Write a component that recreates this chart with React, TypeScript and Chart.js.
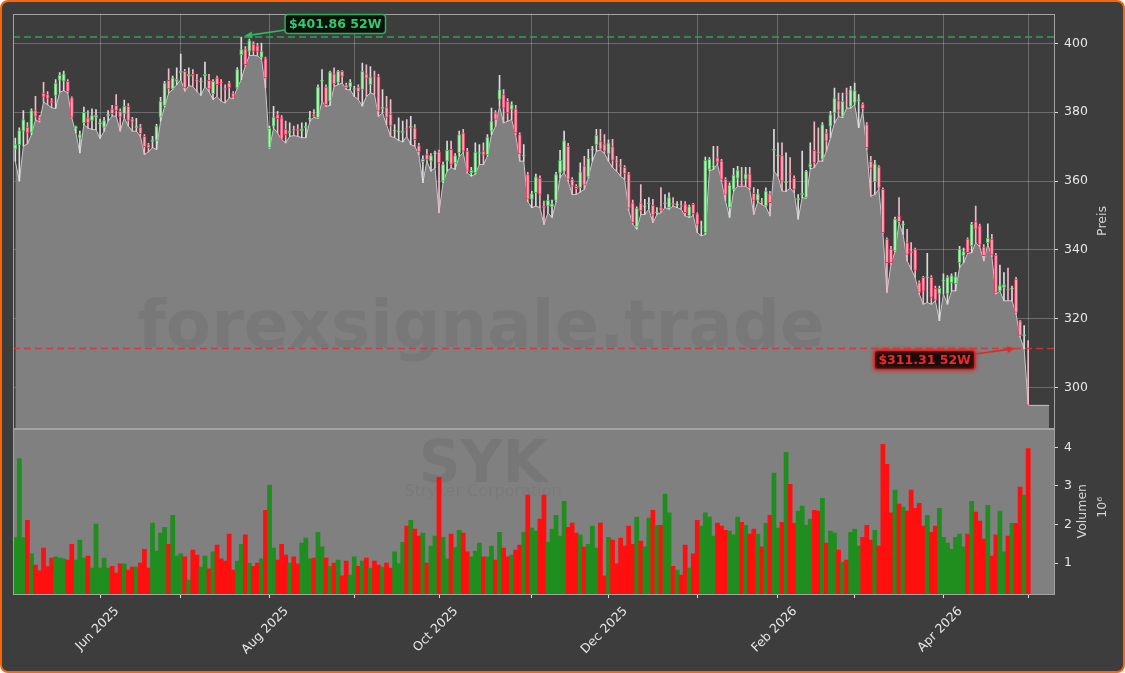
import React, { useEffect, useRef } from 'react';
import { Chart, registerables } from 'chart.js';

Chart.register(...registerables);

// ---- Data (SYK daily, index = trading day from 2025-05-01) ----
const opens = [
  369.3, 370.6, 374.5, 375.7, 374.1, 380.5, 378.6, 385.6, 385.1, 383.4,
  384.9, 389.3, 389.0, 389.0, 384.2, 375.3, 372.5, 377.0, 378.4, 377.6,
  378.5, 376.5, 375.6, 379.0, 381.0, 382.0, 380.3, 379.6, 381.7, 378.1,
  375.5, 375.7, 373.0, 370.6, 371.4, 371.8, 378.6, 381.9, 389.3, 386.8,
  389.0, 391.5, 391.9, 390.5, 391.0, 389.5, 388.8, 390.5, 389.3, 385.4,
  390.0, 388.7, 386.9, 388.5, 385.6, 387.1, 396.7, 398.4, 397.7, 399.8,
  399.3, 395.9, 395.6, 369.7, 375.9, 379.3, 378.4, 375.0, 374.0, 375.0,
  375.0, 374.5, 375.5, 378.0, 379.3, 378.4, 389.0, 387.3, 383.2, 391.2,
  388.7, 391.9, 388.0, 387.3, 386.6, 387.3, 386.6, 391.2, 388.0, 390.5,
  390.4, 381.0, 381.5, 379.5, 374.5, 374.3, 374.0, 375.3, 375.5, 375.5,
  370.3, 365.6, 367.7, 365.8, 367.9, 368.5, 360.0, 365.8, 369.2, 365.3,
  368.2, 374.0, 368.7, 362.4, 362.4, 368.0, 368.7, 367.7, 374.5, 379.8,
  383.7, 385.1, 383.2, 380.8, 381.0, 373.5, 367.2, 361.9, 354.7, 356.6,
  360.8, 352.7, 352.8, 352.5, 354.4, 362.4, 362.9, 370.1, 360.5, 358.5,
  358.1, 364.4, 361.2, 369.0, 370.6, 371.6, 370.8, 367.9, 370.0, 365.8,
  364.6, 364.0, 362.1, 353.7, 346.7, 353.7, 352.5, 353.4, 353.0, 350.8,
  352.3, 353.4, 352.3, 353.5, 353.0, 352.8, 353.4, 349.9, 353.2, 350.5,
  346.5, 345.0, 363.4, 364.0, 366.8, 365.8, 360.5, 352.3, 357.6, 360.8,
  359.0, 360.5, 362.1, 356.4, 354.4, 354.0, 352.8, 356.3, 368.9, 367.2,
  367.4, 359.5, 362.0, 360.8, 354.5, 356.0, 355.2, 364.0, 368.9, 368.5,
  366.3, 374.0, 375.9, 379.8, 383.4, 378.8, 385.4, 381.7, 382.7, 383.4,
  382.4, 376.4, 365.8, 359.8, 364.1, 357.6, 343.1, 340.2, 339.7, 349.9,
  347.3, 342.1, 339.3, 340.2, 330.5, 332.0, 331.9, 332.0, 328.8, 327.2,
  330.9, 327.2, 330.5, 330.2, 336.3, 338.3, 343.1, 341.2, 348.2, 347.0,
  340.9, 342.1, 343.1, 338.5, 328.1, 329.1, 328.4, 328.6, 331.5, 319.4,
  315.0, 294.9,
];
const highs = [
  372.5, 375.5, 380.5, 377.0, 381.0, 384.6, 379.0, 388.7, 386.0, 384.0,
  389.5, 391.5, 392.0, 389.5, 384.5, 376.0, 374.5, 381.5, 380.5, 381.0,
  380.8, 378.0, 378.5, 380.5, 382.0, 385.1, 381.0, 383.5, 382.5, 378.5,
  378.2, 376.5, 373.5, 371.0, 373.0, 376.5, 384.3, 389.0, 392.6, 390.5,
  392.9, 396.9, 392.5, 392.9, 392.4, 391.0, 390.0, 394.6, 391.0, 389.5,
  390.5, 389.5, 388.0, 389.0, 386.0, 393.0, 401.86, 399.1, 401.3, 400.5,
  400.0, 400.1, 396.0, 376.0, 381.7, 380.3, 379.0, 377.4, 376.9, 376.0,
  376.4, 376.9, 377.0, 380.3, 380.8, 388.0, 392.4, 388.0, 392.0, 392.9,
  392.2, 392.1, 388.5, 389.5, 387.5, 388.0, 394.3, 393.8, 393.3, 392.0,
  391.0, 386.6, 384.6, 383.7, 376.4, 378.4, 377.4, 377.9, 378.8, 376.4,
  371.0, 367.3, 369.2, 368.0, 368.7, 369.0, 365.5, 371.6, 371.6, 368.0,
  374.5, 375.0, 369.5, 364.0, 371.1, 370.6, 371.1, 373.5, 381.2, 380.5,
  390.7, 386.6, 384.0, 383.0, 382.0, 374.0, 370.6, 362.5, 357.0, 362.0,
  361.5, 354.2, 356.1, 354.5, 362.5, 368.9, 374.5, 371.0, 361.0, 359.0,
  365.3, 367.2, 369.2, 370.1, 375.0, 375.0, 373.5, 372.0, 372.1, 367.2,
  366.3, 364.5, 362.5, 354.5, 352.5, 359.0, 354.7, 355.2, 354.7, 352.3,
  358.1, 356.1, 356.6, 355.2, 354.0, 354.2, 354.0, 353.0, 353.5, 350.8,
  348.4, 367.0, 366.8, 370.1, 370.1, 366.3, 361.0, 359.5, 363.7, 364.3,
  364.0, 364.0, 364.0, 358.1, 357.6, 355.0, 358.0, 357.0, 375.0, 371.1,
  371.1, 368.2, 366.8, 361.5, 356.1, 368.7, 363.1, 371.1, 377.2, 375.5,
  377.0, 375.0, 380.3, 387.05, 385.6, 385.6, 387.05, 387.5, 388.5, 385.1,
  382.7, 377.0, 367.2, 366.0, 364.5, 358.0, 343.5, 341.0, 349.5, 355.2,
  348.4, 346.0, 342.1, 340.5, 331.0, 332.3, 339.0, 332.5, 329.5, 329.5,
  333.0, 332.5, 333.0, 333.5, 341.0, 340.5, 343.5, 348.0, 352.7, 347.5,
  341.5, 347.6, 344.5, 339.0, 335.6, 333.4, 334.7, 329.5, 332.0, 319.5,
  318.0, 313.6,
];
const lows = [
  365.8, 360.0, 370.2, 370.8, 373.5, 377.8, 377.2, 383.0, 382.2, 381.3,
  381.1, 385.8, 386.3, 385.6, 378.4, 374.0, 368.2, 376.4, 375.4, 375.0,
  374.9, 372.4, 374.5, 377.4, 378.9, 378.9, 374.5, 378.4, 376.0, 374.5,
  374.5, 373.0, 367.7, 368.5, 369.7, 369.2, 377.4, 381.6, 385.6, 386.6,
  388.0, 389.5, 386.1, 387.7, 387.5, 386.0, 384.9, 387.5, 386.0, 383.7,
  384.6, 383.2, 382.7, 384.2, 384.0, 387.0, 389.5, 393.5, 396.5, 396.5,
  396.4, 395.5, 387.1, 369.5, 375.4, 374.0, 372.0, 371.1, 373.0, 373.2,
  373.0, 372.6, 372.6, 377.4, 378.5, 378.2, 383.2, 381.7, 382.0, 387.5,
  388.0, 388.5, 386.6, 386.5, 384.6, 383.7, 381.8, 384.6, 385.6, 385.2,
  378.8, 379.8, 376.4, 373.0, 372.6, 371.8, 371.4, 373.0, 370.6, 370.1,
  367.7, 359.5, 365.8, 362.9, 363.9, 350.8, 359.5, 362.9, 363.9, 363.4,
  367.2, 368.2, 362.4, 361.4, 362.0, 364.8, 364.8, 367.2, 373.5, 375.9,
  381.7, 376.9, 377.4, 377.9, 373.5, 365.8, 365.8, 354.0, 352.3, 352.7,
  352.3, 347.4, 350.8, 349.4, 354.0, 361.0, 362.5, 360.0, 356.1, 356.1,
  356.8, 357.6, 361.0, 365.8, 368.7, 369.0, 368.0, 365.8, 363.9, 362.9,
  361.4, 360.5, 351.5, 347.5, 346.0, 350.3, 350.3, 351.8, 347.9, 350.3,
  350.8, 352.3, 351.8, 352.7, 352.3, 351.8, 349.9, 349.4, 350.0, 345.0,
  344.1, 344.5, 363.0, 363.4, 365.0, 360.0, 354.2, 349.4, 357.1, 358.5,
  358.5, 358.5, 357.5, 350.3, 354.0, 353.2, 352.5, 349.9, 362.9, 361.4,
  357.1, 357.0, 358.0, 356.6, 348.9, 355.2, 355.0, 363.5, 363.9, 365.8,
  365.8, 368.7, 372.6, 376.9, 378.8, 378.4, 381.2, 381.2, 382.2, 375.5,
  380.3, 369.2, 355.6, 356.1, 357.6, 344.8, 327.6, 335.8, 339.5, 347.9,
  344.5, 336.8, 334.4, 332.0, 327.2, 324.2, 324.7, 324.2, 325.2, 319.4,
  327.2, 324.2, 328.1, 328.1, 334.9, 336.3, 339.0, 339.2, 342.1, 340.9,
  336.8, 341.6, 338.0, 327.2, 328.0, 325.2, 325.2, 325.2, 321.4, 314.6,
  311.31, 294.8,
];
const closes = [
  370.6, 374.7, 377.9, 374.0, 380.5, 378.8, 377.6, 384.4, 384.0, 382.7,
  388.5, 390.7, 391.2, 385.9, 378.6, 375.8, 373.5, 380.0, 376.9, 379.0,
  379.2, 377.0, 377.6, 379.5, 379.6, 380.5, 378.6, 381.7, 377.6, 377.1,
  376.0, 373.8, 370.0, 369.7, 372.0, 375.9, 383.2, 388.5, 386.8, 390.0,
  389.6, 391.9, 387.1, 391.0, 390.5, 389.0, 389.0, 391.0, 386.8, 389.0,
  388.0, 388.5, 386.6, 387.1, 384.4, 392.4, 398.2, 393.8, 400.8, 397.7,
  397.7, 397.7, 390.0, 375.3, 378.6, 378.1, 372.1, 373.5, 374.5, 374.8,
  374.6, 375.2, 375.9, 378.3, 378.8, 387.3, 389.3, 382.2, 391.7, 388.2,
  391.9, 390.4, 387.1, 388.7, 386.8, 385.9, 391.9, 389.8, 390.2, 390.4,
  380.3, 381.5, 378.5, 376.0, 374.7, 374.6, 374.5, 375.0, 376.0, 372.0,
  368.5, 366.3, 366.3, 367.4, 368.2, 365.3, 364.8, 368.9, 364.8, 367.4,
  373.5, 368.7, 362.9, 363.1, 368.4, 368.2, 367.5, 372.8, 377.4, 377.9,
  386.6, 381.2, 379.8, 382.2, 374.0, 367.9, 367.4, 354.7, 356.3, 361.2,
  356.1, 352.1, 354.4, 353.4, 361.9, 366.0, 371.8, 360.5, 358.5, 357.8,
  362.7, 358.8, 366.6, 369.4, 373.3, 369.2, 368.7, 371.1, 366.0, 365.5,
  364.3, 362.1, 352.1, 347.9, 352.1, 351.3, 352.7, 353.7, 350.1, 351.0,
  351.5, 353.5, 355.2, 353.2, 353.3, 352.6, 350.8, 352.6, 350.5, 347.4,
  346.6, 366.0, 366.3, 364.4, 365.5, 360.5, 356.1, 358.8, 361.7, 363.1,
  358.8, 362.1, 357.9, 354.4, 356.3, 353.9, 357.1, 353.7, 369.3, 367.4,
  360.0, 359.6, 361.9, 357.6, 355.0, 356.5, 362.9, 365.0, 365.3, 368.0,
  376.4, 371.6, 379.3, 384.1, 380.5, 383.2, 385.2, 386.6, 386.3, 383.5,
  381.0, 369.7, 363.7, 365.0, 357.9, 345.0, 336.3, 336.3, 348.9, 348.2,
  347.4, 338.7, 339.2, 334.0, 327.6, 328.0, 332.0, 326.2, 325.4, 328.8,
  331.0, 332.0, 332.5, 332.2, 340.2, 339.5, 339.2, 347.4, 346.0, 341.6,
  338.3, 343.4, 338.5, 327.6, 329.6, 329.9, 328.3, 328.8, 321.8, 315.1,
  315.4, 294.8,
];
// Volume in millions of shares
const volumes = [
  1.66, 3.71, 1.66, 2.11, 1.24, 0.95, 0.80, 1.39, 0.91, 1.13,
  1.16, 1.13, 1.11, 1.08, 1.49, 1.08, 1.60, 1.13, 1.18, 0.87,
  2.01, 0.87, 1.13, 0.87, 0.92, 0.74, 0.98, 0.98, 0.82, 0.90,
  0.90, 1.00, 1.36, 0.87, 2.04, 1.31, 1.78, 1.93, 1.49, 2.24,
  1.18, 1.24, 1.16, 0.56, 1.34, 1.21, 0.90, 1.18, 0.85, 1.29,
  1.47, 1.11, 1.05, 1.75, 0.82, 1.05, 1.49, 1.73, 1.00, 0.92,
  1.00, 1.11, 2.37, 3.02, 1.39, 1.08, 1.49, 1.21, 1.00, 1.16,
  0.98, 1.52, 1.65, 1.11, 1.13, 1.80, 1.42, 1.13, 0.92, 1.00,
  1.08, 0.67, 1.05, 0.69, 1.16, 0.92, 1.05, 1.13, 0.87, 1.05,
  0.95, 0.90, 1.00, 0.87, 1.29, 0.98, 1.54, 1.96, 2.11, 1.88,
  1.70, 1.78, 1.00, 1.44, 1.70, 3.22, 1.67, 1.11, 1.75, 1.41,
  1.85, 1.78, 1.29, 1.16, 1.31, 1.52, 1.16, 1.16, 1.44, 1.08,
  1.80, 1.39, 1.16, 1.21, 1.34, 1.47, 1.80, 2.76, 1.91, 1.83,
  2.14, 2.76, 1.54, 1.88, 2.24, 1.70, 2.60, 1.93, 2.04, 1.78,
  1.73, 1.42, 1.49, 1.96, 1.39, 2.04, 0.67, 1.67, 1.60, 0.98,
  1.65, 1.44, 1.96, 1.49, 2.19, 1.57, 1.42, 2.17, 2.37, 1.98,
  1.98, 2.79, 2.30, 0.92, 0.82, 0.69, 1.47, 0.87, 1.24, 2.11,
  1.96, 2.30, 2.19, 1.70, 2.04, 1.96, 1.85, 1.83, 1.73, 2.19,
  2.06, 1.98, 1.75, 1.88, 1.75, 1.42, 2.03, 2.24, 3.33, 1.91,
  2.06, 3.87, 3.04, 2.03, 2.35, 2.48, 1.98, 2.14, 2.37, 2.35,
  2.68, 1.52, 1.83, 1.78, 1.34, 1.03, 1.08, 1.80, 1.88, 1.44,
  1.67, 1.98, 1.60, 1.85, 1.44, 4.08, 3.56, 2.30, 2.89, 2.53,
  2.45, 2.35, 2.89, 2.42, 2.55, 1.96, 2.24, 1.80, 1.96, 2.42,
  1.67, 1.52, 1.36, 1.67, 1.75, 1.42, 1.75, 2.60, 2.32, 2.09,
  1.62, 2.50, 1.18, 1.73, 2.35, 1.29, 1.70, 2.03, 2.03, 2.97,
  2.76, 3.97,
];

const monthTickIndex = [21, 41, 63, 84, 105, 128, 147, 169, 189, 208, 230, 251];
const monthTickLabels = ['Jun 2025', '', 'Aug 2025', '', 'Oct 2025', '', 'Dec 2025', '', 'Feb 2026', '', 'Apr 2026', ''];
const priceTicks = [300, 320, 340, 360, 380, 400];
const volumeTicks = [1, 2, 3, 4];
const high52w = 401.86;
const low52w = 311.31;
const areaTailIndex = 256.2;

// ---- axis limits / styles ----
const X_MIN = -0.57;
const X_MAX = 257.4;
const PRICE_MIN = 288.1;
const PRICE_MAX = 408.7;
const VOL_MIN = 0.2;
const VOL_MAX = 4.49;

const FONT = '"DejaVu Sans", sans-serif';
const BG = '#3d3d3d';
const PANEL_GREY = '#808080';
const GRID = 'rgba(255,255,255,0.24)';
const TICK_TXT = '#e6e6e6';
const TICK_MARK = '#dddddd';
const SPINE = '#a3a3a3';
const UP_FILL = '#bfe9bf';
const UP_EDGE = '#4cbb5a';
const DN_FILL = '#ffa8bb';
const DN_EDGE = '#e33a62';
const UP_WICK = '#dcdcdc';
const DN_WICK = '#f3b7c6';
const VOL_UP = '#1f8e1f';
const VOL_DN = '#ff0f0f';

function roundRect(ctx: CanvasRenderingContext2D, x: number, y: number, w: number, h: number, r: number) {
  ctx.beginPath();
  ctx.moveTo(x + r, y);
  ctx.lineTo(x + w - r, y);
  ctx.quadraticCurveTo(x + w, y, x + w, y + r);
  ctx.lineTo(x + w, y + h - r);
  ctx.quadraticCurveTo(x + w, y + h, x + w - r, y + h);
  ctx.lineTo(x + r, y + h);
  ctx.quadraticCurveTo(x, y + h, x, y + h - r);
  ctx.lineTo(x, y + r);
  ctx.quadraticCurveTo(x, y, x + r, y);
  ctx.closePath();
}

function drawArrow(ctx: CanvasRenderingContext2D, x0: number, y0: number, x1: number, y1: number, color: string) {
  const ang = Math.atan2(y1 - y0, x1 - x0);
  const head = 8;
  const hw = 3.5;
  const bx = x1 - head * Math.cos(ang);
  const by = y1 - head * Math.sin(ang);
  ctx.save();
  ctx.strokeStyle = color;
  ctx.fillStyle = color;
  ctx.lineWidth = 1.6;
  ctx.beginPath();
  ctx.moveTo(x0, y0);
  ctx.lineTo(bx, by);
  ctx.stroke();
  ctx.beginPath();
  ctx.moveTo(x1, y1);
  ctx.lineTo(bx + hw * Math.sin(ang), by - hw * Math.cos(ang));
  ctx.lineTo(bx - hw * Math.sin(ang), by + hw * Math.cos(ang));
  ctx.closePath();
  ctx.fill();
  ctx.restore();
}

function drawTag(ctx: CanvasRenderingContext2D, text: string, cx: number, cy: number, fg: string, edge: string, bg: string, glow: boolean) {
  ctx.save();
  ctx.font = `bold 12.5px ${FONT}`;
  const w = ctx.measureText(text).width + 8;
  const h = 19;
  roundRect(ctx, cx - w / 2, cy - h / 2, w, h, 3);
  if (glow) {
    ctx.shadowColor = edge;
    ctx.shadowBlur = 4;
  }
  ctx.fillStyle = bg;
  ctx.fill();
  ctx.lineWidth = 1.5;
  ctx.strokeStyle = edge;
  ctx.stroke();
  ctx.shadowBlur = 0;
  ctx.fillStyle = fg;
  ctx.textAlign = 'center';
  ctx.textBaseline = 'middle';
  ctx.fillText(text, cx, cy + 0.5);
  ctx.restore();
  return w;
}

export default function App() {
  const canvasRef = useRef<HTMLCanvasElement | null>(null);

  useEffect(() => {
    const canvas = canvasRef.current;
    if (!canvas) return;
    const n = closes.length;
    const idx = closes.map((_, i) => i);
    const isUp = idx.map((i) => closes[i] >= opens[i]);

    const areaData = idx.map((i) => ({ x: i, y: lows[i] }));
    areaData.push({ x: areaTailIndex, y: lows[n - 1] });
    const wickData = idx.map((i) => ({ x: i, y: [lows[i], highs[i]] }));
    const bodyData = idx.map((i) => ({ x: i, y: [opens[i], closes[i]] }));
    const volData = idx.map((i) => ({ x: i, y: volumes[i] }));

    const hiIndex = highs.indexOf(Math.max(...highs));
    const loIndex = lows.findIndex((v) => Math.abs(v - low52w) < 1e-6);

    const overlay = {
      id: 'overlay',
      beforeDatasetsDraw(chart: any) {
        const { ctx, chartArea } = chart;
        const yv = chart.scales.yv;
        ctx.save();
        ctx.fillStyle = PANEL_GREY;
        ctx.fillRect(chartArea.left, yv.top, chartArea.right - chartArea.left, yv.bottom - yv.top);
        ctx.restore();
      },
      afterDatasetDraw(chart: any, args: any) {
        if (args.index !== 0) return;
        const { ctx, chartArea } = chart;
        ctx.save();
        ctx.textAlign = 'center';
        ctx.textBaseline = 'alphabetic';
        ctx.fillStyle = 'rgba(0,0,0,0.06)';
        ctx.font = `bold 66px ${FONT}`;
        ctx.fillText('forexsignale.trade', chartArea.left + 468, 347);
        ctx.fillStyle = 'rgba(0,0,0,0.065)';
        ctx.font = `bold 58px ${FONT}`;
        ctx.fillText('SYK', chartArea.left + 470, 482);
        ctx.fillStyle = 'rgba(0,0,0,0.05)';
        ctx.font = `16px ${FONT}`;
        ctx.fillText('Stryker Corporation', chartArea.left + 470, 496);
        ctx.restore();
      },
      afterDatasetsDraw(chart: any) {
        const { ctx, chartArea } = chart;
        const xs = chart.scales.x;
        const y = chart.scales.y;
        const yv = chart.scales.yv;
        const L = chartArea.left;
        const R = chartArea.right;

        // dashed 52W lines
        ctx.save();
        ctx.lineWidth = 1.5;
        ctx.setLineDash([7, 4]);
        ctx.strokeStyle = 'rgba(46,168,88,0.95)';
        const yh = y.getPixelForValue(high52w);
        ctx.beginPath();
        ctx.moveTo(L, yh);
        ctx.lineTo(R, yh);
        ctx.stroke();
        ctx.strokeStyle = 'rgba(214,52,52,0.9)';
        const yl = y.getPixelForValue(low52w);
        ctx.beginPath();
        ctx.moveTo(L, yl);
        ctx.lineTo(R, yl);
        ctx.stroke();
        ctx.restore();

        // spines
        ctx.save();
        ctx.strokeStyle = SPINE;
        ctx.lineWidth = 1;
        ctx.strokeRect(Math.round(L) + 0.5, Math.round(y.top) + 0.5, Math.round(R - L), Math.round(y.bottom - y.top));
        ctx.strokeRect(Math.round(L) + 0.5, Math.round(yv.top) + 0.5, Math.round(R - L), Math.round(yv.bottom - yv.top));
        ctx.restore();

        // 52W high tag
        const phx = xs.getPixelForValue(hiIndex);
        const phy = y.getPixelForValue(high52w);
        const gcx = phx + 94;
        const gcy = phy - 13;
        const gw = drawTag(ctx, `$${high52w.toFixed(2)} 52W`, gcx, gcy, '#35c86f', '#2fae5e', '#07140b', false);
        drawArrow(ctx, gcx - gw / 2, gcy + 6, phx + 3, phy - 1, '#2fb862');

        // 52W low tag
        const plx = xs.getPixelForValue(loIndex);
        const ply = y.getPixelForValue(low52w);
        const rcx = plx - 99.5;
        const rcy = ply + 11.5;
        const rw = drawTag(ctx, `$${low52w.toFixed(2)} 52W`, rcx, rcy, '#ee2b2b', '#d42a2a', '#1a0b0b', true);
        drawArrow(ctx, rcx + rw / 2, rcy - 6, plx - 9, ply, '#e02a2a');

        // axis titles
        ctx.save();
        ctx.fillStyle = '#d6d6d6';
        ctx.font = `12.5px ${FONT}`;
        ctx.textAlign = 'center';
        ctx.textBaseline = 'middle';
        const txt = (s: string, x: number, yy: number) => {
          ctx.save();
          ctx.translate(x, yy);
          ctx.rotate(-Math.PI / 2);
          ctx.fillText(s, 0, 0);
          ctx.restore();
        };
        txt('Preis', R + 49, (y.top + y.bottom) / 2);
        txt('Volumen', R + 29, (yv.top + yv.bottom) / 2);
        txt('10\u2076', R + 49, (yv.top + yv.bottom) / 2 - 4);
        ctx.restore();
      },
    };

    const tickFont = { family: FONT, size: 12.5 };

    const chart = new Chart(canvas, {
      type: 'bar',
      data: {
        datasets: [
          {
            type: 'line',
            label: 'area',
            data: areaData as any,
            xAxisID: 'x',
            yAxisID: 'y',
            borderColor: '#c9c9c9',
            borderWidth: 1,
            backgroundColor: PANEL_GREY,
            fill: 'start',
            pointRadius: 0,
            tension: 0,
            order: 10,
          } as any,
          {
            type: 'bar',
            label: 'wick',
            data: wickData as any,
            xAxisID: 'x',
            yAxisID: 'y',
            backgroundColor: isUp.map((u) => (u ? UP_WICK : DN_WICK)),
            barThickness: 1,
            grouped: false,
            order: 5,
          } as any,
          {
            type: 'bar',
            label: 'body',
            data: bodyData as any,
            xAxisID: 'x',
            yAxisID: 'y',
            backgroundColor: isUp.map((u) => (u ? UP_FILL : DN_FILL)),
            borderColor: isUp.map((u) => (u ? UP_EDGE : DN_EDGE)),
            borderWidth: 1,
            borderSkipped: false,
            barThickness: 3.2,
            minBarLength: 1,
            grouped: false,
            order: 3,
          } as any,
          {
            type: 'bar',
            label: 'volume',
            data: volData as any,
            xAxisID: 'x',
            yAxisID: 'yv',
            backgroundColor: isUp.map((u) => (u ? VOL_UP : VOL_DN)),
            barThickness: 4.1,
            base: VOL_MIN,
            grouped: false,
            order: 1,
          } as any,
        ],
      },
      options: {
        responsive: false,
        animation: false,
        events: [],
        layout: { padding: { left: 13, top: 12, right: 0, bottom: 0 } },
        plugins: { legend: { display: false }, tooltip: { enabled: false } },
        scales: {
          x: {
            type: 'linear',
            min: X_MIN,
            max: X_MAX,
            offset: false,
            grid: { color: GRID, lineWidth: 1, drawTicks: true, tickLength: 4, tickColor: TICK_MARK, offset: false },
            border: { display: false },
            ticks: {
              autoSkip: false,
              maxRotation: 45,
              minRotation: 45,
              color: TICK_TXT,
              font: tickFont,
              labelOffset: 17,
              padding: 6,
              callback: (v: any) => {
                const k = monthTickIndex.indexOf(Number(v));
                return k >= 0 ? monthTickLabels[k] : '';
              },
            },
            afterBuildTicks: (s: any) => {
              s.ticks = monthTickIndex.map((v) => ({ value: v }));
            },
            afterFit: (s: any) => {
              s.height = 79;
            },
          },
          y: {
            type: 'linear',
            position: 'right',
            stack: 'panels',
            stackWeight: 416,
            min: PRICE_MIN,
            max: PRICE_MAX,
            grid: { color: GRID, lineWidth: 1, tickLength: 4, tickColor: TICK_MARK },
            border: { display: false },
            ticks: { color: TICK_TXT, font: tickFont, padding: 6 },
            afterBuildTicks: (s: any) => {
              s.ticks = priceTicks.map((v) => ({ value: v }));
            },
            afterFit: (s: any) => {
              s.width = 71;
            },
          },
          yv: {
            type: 'linear',
            position: 'right',
            stack: 'panels',
            stackWeight: 166,
            min: VOL_MIN,
            max: VOL_MAX,
            grid: { drawOnChartArea: false, tickLength: 4, tickColor: TICK_MARK },
            border: { display: false },
            ticks: { color: TICK_TXT, font: tickFont, padding: 6 },
            afterBuildTicks: (s: any) => {
              s.ticks = volumeTicks.map((v) => ({ value: v }));
            },
            afterFit: (s: any) => {
              s.width = 71;
            },
          },
        },
      } as any,
      plugins: [overlay],
    });

    return () => {
      chart.destroy();
    };
  }, []);

  return (
    <div style={{ position: 'fixed', left: 0, top: 0, width: 1125, height: 673, background: '#ffffff' }}>
      <div
        style={{
          position: 'absolute',
          inset: 0,
          background: BG,
          border: '2.5px solid #f7660c',
          borderRadius: 8,
          boxSizing: 'border-box',
        }}
      />
      <canvas ref={canvasRef} width={1125} height={673} style={{ position: 'absolute', left: 0, top: 0, width: 1125, height: 673 }} />
    </div>
  );
}
